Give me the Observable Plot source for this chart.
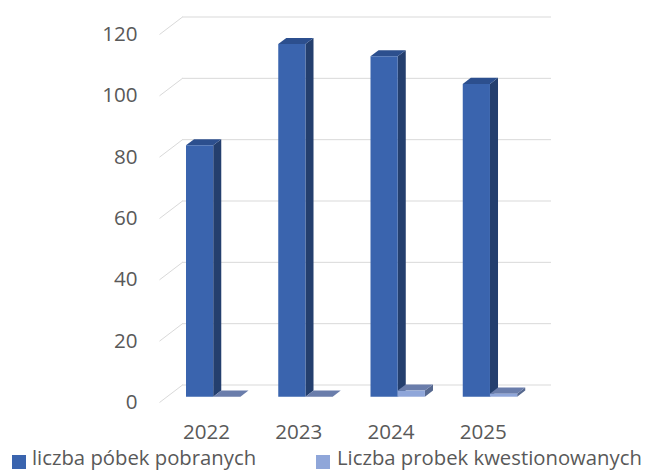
<!DOCTYPE html>
<html><head><meta charset="utf-8">
<script src="https://cdn.jsdelivr.net/npm/d3@7"></script>
<script src="https://cdn.jsdelivr.net/npm/@observablehq/plot@0.6"></script>
<style>
html,body{margin:0;padding:0;background:#fff;overflow:hidden;}
body{width:648px;height:473px;position:relative;font-family:"Open Sans",sans-serif;color:#595959;}
#chart{position:absolute;left:0;top:0;}
.lg-sq{position:absolute;width:14px;height:14px;top:455px;}
.lg-tx{position:absolute;top:446px;font-size:20.3px;line-height:22px;height:24px;white-space:nowrap;}
</style></head>
<body><div id="chart"></div>
<div class="lg-sq" id="sq0" style="left:12px"></div><div class="lg-tx" id="tx0" style="left:32px"></div>
<div class="lg-sq" id="sq1" style="left:316px"></div><div class="lg-tx" id="tx1" style="left:337px"></div>
<script>
// ---- data ----
const years = ["2022", "2023", "2024", "2025"];
const pobrane = [82, 115, 111, 102];
const kwestionowane = [0, 0, 2, 1];
const yTicks = [0, 20, 40, 60, 80, 100, 120];
const seriesNames = ["liczba póbek pobranych", "Liczba probek kwestionowanych"];
const seriesValues = [pobrane, kwestionowane];
// face colours: front, top, side
const seriesColors = [
  {front: "#3A64AE", top: "#2C4F8E", side: "#243F6E"},
  {front: "#8FA6D9", top: "#6A7DAB", side: "#56688F"}
];

// ---- layout ----
const W = 648, H = 446, mL = 159, mR = 120, mT = 34, mB = 44;
const yMax = 120;
const pxX = (W - mL - mR) / years.length;
const pxY = (H - mT - mB) / yMax;
const DX = 23 / pxX, DY = 17.5 / pxY;   // depth of the 3-D box, in data units
const F0 = 0.33, F1 = 0.68;             // bar depth span (fraction of box depth)
const BAR0 = 0.205, BARW = 0.295;

const faces = [];
years.forEach((yr, i) => {
  seriesValues.forEach((vals, s) => {
    const v = vals[i];
    const xl = i + BAR0 + s * BARW, xr = xl + BARW;
    const p = (x, y, f) => ({x: x + f * DX, y: y + f * DY});
    const c = seriesColors[s];
    const add = (name, pts, color) => pts.forEach(q => faces.push({...q, id: `${i}-${s}-${name}`, color}));
    add("side", [p(xr, 0, F0), p(xr, 0, F1), p(xr, v, F1), p(xr, v, F0)], c.side);
    add("top", [p(xl, v, F0), p(xr, v, F0), p(xr, v, F1), p(xl, v, F1)], c.top);
    add("front", [p(xl, 0, F0), p(xr, 0, F0), p(xr, v, F0), p(xl, v, F0)], c.front);
  });
});

const font = "Open Sans";
const fs = 20.6;
const chart = Plot.plot({
  width: W, height: H,
  marginLeft: mL, marginRight: mR, marginTop: mT, marginBottom: mB,
  x: {domain: [0, years.length], axis: null},
  y: {domain: [0, yMax], axis: null},
  color: {type: "identity"},
  style: {fontFamily: font, background: "#fff", overflow: "visible"},
  marks: [
    Plot.link(yTicks, {x1: 0, y1: d => d, x2: DX, y2: d => d + DY, stroke: "#D9D9D9", strokeWidth: 1}),
    Plot.ruleY(yTicks, {y: d => d + DY, x1: DX, x2: years.length + DX, stroke: "#D9D9D9", strokeWidth: 1}),
    Plot.line(faces, {x: "x", y: "y", z: "id", fill: "color", stroke: "none", curve: "linear-closed"}),
    Plot.text(yTicks, {x: 0, y: d => d, text: d => String(d), dx: -22, textAnchor: "end", fontSize: fs, fill: "#595959", fontFamily: font}),
    Plot.text(years, {x: (d, i) => i + 0.51, y: 0, text: d => d, dy: 30, textAnchor: "middle", fontSize: fs, fill: "#595959", fontFamily: font})
  ]
});
document.getElementById("chart").appendChild(chart);

seriesNames.forEach((n, s) => {
  document.getElementById("sq" + s).style.background = seriesColors[s].front;
  document.getElementById("tx" + s).textContent = n;
});
</script>
</body></html>
